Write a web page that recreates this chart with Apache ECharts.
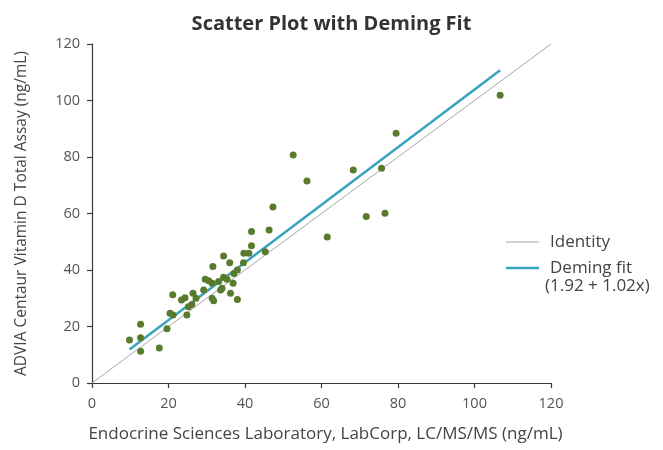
<!DOCTYPE html>
<html>
<head>
<meta charset="utf-8">
<script src="https://cdn.jsdelivr.net/npm/echarts@6/dist/echarts.min.js"></script>
<style>
  html, body { margin: 0; padding: 0; background: #fff; }
  #chart { width: 663px; height: 450px; }
</style>
</head>
<body>
<div id="chart"></div>
<script>
// values
const esX = [9.8, 12.7, 12.7, 12.7, 17.6, 19.6, 20.4, 21.2, 24.8, 21.1, 23.4, 24.3, 26.4, 27.2, 25.2, 26.1,
  29.2, 29.6, 30.5, 31.6, 31.4, 33.1, 34.4, 35.3, 34.0, 33.6, 36.2, 31.4, 31.8, 38.0, 36.9, 37.1, 38.0,
  36.0, 39.6, 34.4, 39.7, 41.0, 41.7, 41.7, 46.3, 45.3, 47.3, 52.6, 56.2, 61.5, 68.3, 75.7, 71.7, 76.6,
  79.5, 106.7]
const adviaY = [15.2, 16.0, 20.8, 11.2, 12.4, 19.2, 24.7, 24.1, 24.1, 31.2, 29.4, 30.2, 31.8, 30.0, 27.0, 27.8,
  32.9, 36.7, 36.2, 41.2, 35.3, 35.9, 37.4, 36.7, 33.5, 32.9, 31.8, 30.0, 29.1, 29.6, 35.3, 38.8, 40.0,
  42.6, 42.6, 45.0, 45.9, 45.9, 48.6, 53.6, 54.2, 46.5, 62.3, 80.7, 71.5, 51.7, 75.4, 76.0, 58.9, 60.1,
  88.4, 101.9]

const identityX = [0, 120]
const identityY = [0, 120]
const demingX = [9.8, 106.7]
const demingY = [11.9, 110.7]
const demingLabel = '(1.92 + 1.02x)'

const axisTicks = [0, 20, 40, 60, 80, 100, 120]

const font = '"Open Sans", "Noto Sans", sans-serif'
const axisColor = '#3a3a3a'

const chart = echarts.init(document.getElementById('chart'))

const axisBase = {
  type: 'value',
  min: axisTicks[0],
  max: axisTicks[axisTicks.length - 1],
  interval: axisTicks[1] - axisTicks[0],
  nameLocation: 'middle',
  axisLine: { show: true, lineStyle: { color: axisColor, width: 1.2 } },
  axisTick: { show: true, length: 5, lineStyle: { color: axisColor, width: 1.2 } },
  splitLine: { show: false }
}

chart.setOption({
  animation: false,
  backgroundColor: '#fff',
  title: {
    text: 'Scatter Plot with Deming Fit',
    left: 'center',
    top: 9,
    textStyle: { color: '#333', fontSize: 20, fontWeight: 'bold', fontFamily: font }
  },
  grid: { left: 92, right: 112, top: 44, bottom: 67 },
  xAxis: {
    ...axisBase,
    name: 'Endocrine Sciences Laboratory, LabCorp, LC/MS/MS (ng/mL)',
    nameGap: 43,
    nameTextStyle: { color: '#444', fontSize: 17, fontFamily: font, padding: [0, 0, 0, 8] },
    axisLabel: { color: '#555', fontSize: 14.5, fontFamily: font, margin: 13 }
  },
  yAxis: {
    ...axisBase,
    name: 'ADVIA Centaur Vitamin D Total Assay (ng/mL)',
    nameGap: 62,
    nameTextStyle: { color: '#444', fontSize: 15.5, fontFamily: font },
    axisLabel: { color: '#555', fontSize: 14.5, fontFamily: font, margin: 12 }
  },
  legend: {
    orient: 'vertical',
    left: 501,
    top: 227,
    itemGap: 6,
    itemWidth: 33,
    itemHeight: 14,
    textStyle: { color: '#444', fontSize: 17, lineHeight: 20, fontFamily: font, padding: [0, 0, 0, 6] },
    data: [
      { name: 'Identity', icon: 'path://M0,0H40V1H0Z' },
      { name: 'Deming fit', icon: 'path://M0,0H40V3H0Z' }
    ]
  },
  graphic: [{
    type: 'text',
    left: 545,
    top: 278,
    style: { text: demingLabel, fill: '#444', font: '17px ' + font }
  }],
  series: [
    {
      name: 'Identity',
      type: 'line',
      data: identityX.map((x, i) => [x, identityY[i]]),
      symbol: 'none',
      color: '#a6a6ac',
      lineStyle: { color: '#a6a6ac', width: 1 },
      z: 1
    },
    {
      name: 'Deming fit',
      type: 'line',
      data: demingX.map((x, i) => [x, demingY[i]]),
      symbol: 'none',
      color: '#38a3bc',
      lineStyle: { color: '#38a3bc', width: 2.5 },
      z: 2
    },
    {
      name: 'Samples',
      type: 'scatter',
      data: esX.map((x, i) => [x, adviaY[i]]),
      symbolSize: 7,
      itemStyle: { color: '#587b2e', opacity: 1 },
      z: 3
    }
  ]
})
</script>
</body>
</html>
